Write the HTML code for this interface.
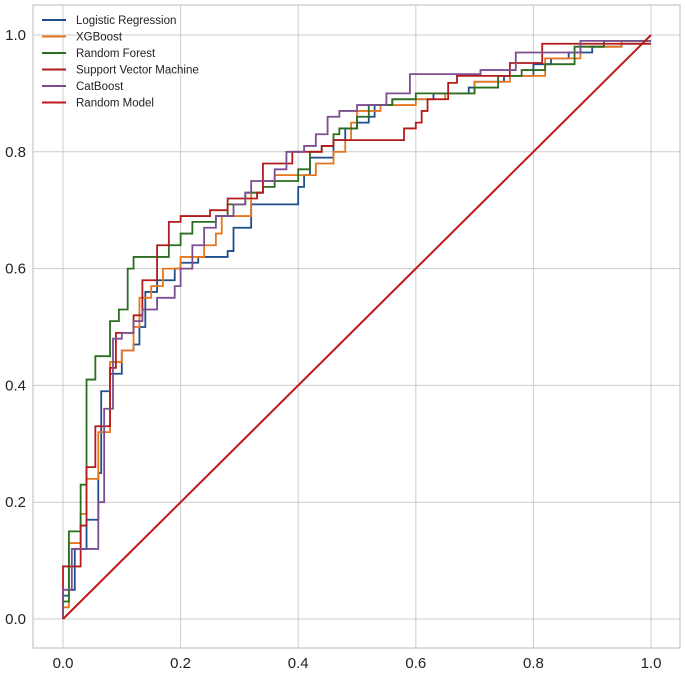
<!DOCTYPE html>
<html><head><meta charset="utf-8"><style>
body{margin:0;background:#fff;font-family:"Liberation Sans",sans-serif}
svg{display:block}
</style></head><body>
<svg id="chart" width="685" height="675">
<rect x="33" y="5" width="647" height="643" fill="#fff" stroke="#bbb" stroke-width="1"/>
<g id="grid"></g><g id="series"></g><g id="ticks"></g><g id="legend"></g>
</svg>
<script>
const xTicks=[0,0.2,0.4,0.6,0.8,1.0];
const yTicks=[0,0.2,0.4,0.6,0.8,1.0];
const xTickLabels=["0.0","0.2","0.4","0.6","0.8","1.0"];
const yTickLabels=["0.0","0.2","0.4","0.6","0.8","1.0"];
const seriesNames=["Logistic Regression","XGBoost","Random Forest","Support Vector Machine","CatBoost","Random Model"];
const lrPts=[[0,0],[0,0.04],[0.01,0.05],[0.02,0.12],[0.04,0.17],[0.06,0.25],[0.065,0.39],[0.08,0.42],[0.1,0.46],[0.12,0.47],[0.13,0.5],[0.14,0.56],[0.16,0.58],[0.19,0.6],[0.2,0.61],[0.23,0.62],[0.28,0.63],[0.29,0.67],[0.32,0.71],[0.38,0.71],[0.4,0.74],[0.41,0.76],[0.42,0.79],[0.46,0.82],[0.48,0.84],[0.5,0.85],[0.52,0.86],[0.53,0.88],[0.56,0.89],[0.6,0.89],[0.63,0.9],[0.67,0.9],[0.69,0.91],[0.7,0.92],[0.75,0.93],[0.8,0.95],[0.83,0.96],[0.86,0.97],[0.9,0.98],[0.95,0.985],[1,0.985]];
const xgbPts=[[0,0],[0,0.02],[0.01,0.13],[0.03,0.18],[0.04,0.24],[0.06,0.32],[0.08,0.44],[0.1,0.46],[0.12,0.5],[0.13,0.55],[0.15,0.57],[0.17,0.6],[0.2,0.62],[0.24,0.64],[0.26,0.66],[0.27,0.69],[0.32,0.73],[0.34,0.75],[0.36,0.76],[0.4,0.76],[0.43,0.78],[0.46,0.8],[0.48,0.82],[0.49,0.85],[0.5,0.87],[0.54,0.88],[0.6,0.89],[0.65,0.9],[0.7,0.92],[0.76,0.93],[0.82,0.96],[0.88,0.98],[0.95,0.99],[1,0.99]];
const rfPts=[[0,0],[0,0.03],[0.01,0.15],[0.03,0.23],[0.04,0.41],[0.055,0.45],[0.08,0.51],[0.095,0.53],[0.11,0.6],[0.12,0.62],[0.17,0.62],[0.18,0.64],[0.2,0.66],[0.22,0.68],[0.26,0.69],[0.28,0.71],[0.31,0.73],[0.34,0.74],[0.36,0.75],[0.4,0.77],[0.42,0.8],[0.44,0.81],[0.46,0.83],[0.47,0.84],[0.5,0.86],[0.52,0.88],[0.56,0.89],[0.6,0.9],[0.66,0.9],[0.7,0.91],[0.74,0.93],[0.78,0.94],[0.82,0.95],[0.87,0.98],[0.92,0.99],[1,0.99]];
const svmPts=[[0,0],[0,0.09],[0.03,0.16],[0.04,0.26],[0.055,0.33],[0.08,0.43],[0.09,0.49],[0.12,0.52],[0.135,0.58],[0.16,0.64],[0.18,0.68],[0.2,0.69],[0.25,0.7],[0.28,0.72],[0.33,0.73],[0.34,0.78],[0.38,0.78],[0.39,0.8],[0.43,0.8],[0.44,0.81],[0.46,0.82],[0.56,0.82],[0.58,0.84],[0.6,0.85],[0.61,0.87],[0.62,0.89],[0.65,0.89],[0.655,0.918],[0.67,0.93],[0.76,0.952],[0.815,0.985],[0.9,0.985],[1,0.985]];
const catPts=[[0,0],[0,0.05],[0.015,0.12],[0.055,0.12],[0.06,0.2],[0.07,0.36],[0.085,0.48],[0.1,0.49],[0.12,0.51],[0.135,0.53],[0.16,0.55],[0.19,0.57],[0.2,0.6],[0.22,0.64],[0.24,0.67],[0.26,0.69],[0.29,0.71],[0.31,0.73],[0.32,0.75],[0.36,0.77],[0.38,0.8],[0.41,0.81],[0.43,0.83],[0.45,0.86],[0.47,0.87],[0.5,0.88],[0.55,0.9],[0.59,0.933],[0.71,0.94],[0.77,0.97],[0.88,0.99],[1,0.99]];
const randPts=[[0,0],[1,1]];
const NS="http://www.w3.org/2000/svg";
const X=v=>63+588*v, Y=v=>619-584*v;
function mk(t,a,p){const e=document.createElementNS(NS,t);for(const k in a)e.setAttribute(k,a[k]);p.appendChild(e);return e;}
const grid=document.getElementById('grid'),ticks=document.getElementById('ticks');
xTicks.forEach((v,i)=>{
  const l=mk('line',{x1:X(v),x2:X(v),y1:5,y2:648,stroke:'#cccccc','stroke-width':1},grid);
  
  
  const t=mk('text',{x:X(v),y:668,'text-anchor':'middle','font-size':15,fill:'#222'},ticks);
  t.textContent=xTickLabels[i];
  
  
});
yTicks.forEach((v,i)=>{
  const l=mk('line',{x1:33,x2:680,y1:Y(v),y2:Y(v),stroke:'#cccccc','stroke-width':1},grid);
  
  
  const t=mk('text',{x:26,y:Y(v)+5,'text-anchor':'end','font-size':15,fill:'#222'},ticks);
  t.textContent=yTickLabels[i];
  
  
});
function step(pts){let d='M'+X(pts[0][0])+','+Y(pts[0][1]);for(let i=1;i<pts.length;i++){d+=' H'+X(pts[i][0])+' V'+Y(pts[i][1]);}return d;}
const colors=['#1f4e8c','#e8761c','#2a6e1f','#b31b1b','#7b4f8f','#c0181a'];
const all=[lrPts,xgbPts,rfPts,svmPts,catPts];
const sg=document.getElementById('series');
const dn=['roc-logistic-regression','roc-xgboost','roc-random-forest','roc-svm','roc-catboost'];
all.forEach((p,i)=>{
  const e=mk('path',{d:step(p),fill:'none',stroke:colors[i],'stroke-width':1.8},sg);
  
  
});
const rl=mk('path',{d:'M'+X(randPts[0][0])+','+Y(randPts[0][1])+' L'+X(randPts[1][0])+','+Y(randPts[1][1]),fill:'none',stroke:colors[5],'stroke-width':2},sg);


const lg=document.getElementById('legend');
seriesNames.forEach((n,i)=>{
  const y=20+16.5*i;
  const g=mk('g',{},lg);
  
  
  mk('line',{x1:42,x2:66,y1:y,y2:y,stroke:colors[i],'stroke-width':2},g);
  const t=mk('text',{x:76,y:y+4,'font-size':11.5,fill:'#222'},g);
  t.textContent=n;
});
</script>
</body></html>
